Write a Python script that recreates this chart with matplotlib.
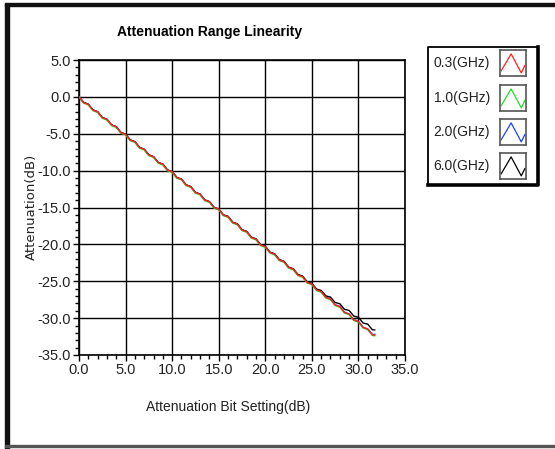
import matplotlib.pyplot as plt
from matplotlib.patches import Rectangle
from matplotlib.lines import Line2D
from matplotlib.ticker import MultipleLocator, FormatStrFormatter

# attenuation bit settings (dB)
settings = [0.0, 0.5, 1.0, 1.5, 2.0, 2.5, 3.0, 3.5, 4.0, 4.5, 5.0, 5.5, 6.0, 6.5, 7.0, 7.5,
            8.0, 8.5, 9.0, 9.5, 10.0, 10.5, 11.0, 11.5, 12.0, 12.5, 13.0, 13.5, 14.0, 14.5,
            15.0, 15.5, 16.0, 16.5, 17.0, 17.5, 18.0, 18.5, 19.0, 19.5, 20.0, 20.5, 21.0,
            21.5, 22.0, 22.5, 23.0, 23.5, 24.0, 24.5, 25.0, 25.5, 26.0, 26.5, 27.0, 27.5,
            28.0, 28.5, 29.0, 29.5, 30.0, 30.5, 31.0, 31.5, 31.75]

# measured attenuation (dB) per frequency
att_03 = [0.00, -0.79, -1.02, -1.80, -2.03, -2.83, -3.05, -3.82, -4.06, -4.85, -5.08, -5.87,
          -6.09, -6.88, -7.11, -7.90, -8.12, -8.91, -9.14, -9.94, -10.16, -10.95, -11.17,
          -11.96, -12.19, -12.98, -13.20, -14.00, -14.22, -15.01, -15.23, -16.03, -16.25,
          -17.04, -17.27, -18.06, -18.28, -19.07, -19.30, -20.09, -20.31, -21.10, -21.33,
          -22.12, -22.34, -23.14, -23.36, -24.15, -24.38, -25.17, -25.39, -26.18, -26.41,
          -27.20, -27.42, -28.21, -28.44, -29.23, -29.45, -30.25, -30.47, -31.26, -31.48,
          -32.27, -32.30]
att_10 = [0.00, -0.85, -1.09, -1.87, -2.11, -2.90, -3.13, -3.90, -4.14, -4.93, -5.16, -5.95,
          -6.17, -6.96, -7.19, -7.98, -8.20, -8.99, -9.22, -10.02, -10.24, -11.03, -11.25,
          -12.04, -12.27, -13.06, -13.28, -14.08, -14.30, -15.09, -15.31, -16.11, -16.33,
          -17.12, -17.35, -18.14, -18.36, -19.15, -19.38, -20.17, -20.39, -21.18, -21.41,
          -22.20, -22.42, -23.22, -23.44, -24.23, -24.46, -25.25, -25.47, -26.26, -26.49,
          -27.28, -27.50, -28.29, -28.52, -29.31, -29.53, -30.33, -30.55, -31.34, -31.56,
          -32.35, -32.40]
att_20 = [0.00, -0.74, -1.00, -1.77, -2.01, -2.79, -3.03, -3.80, -4.03, -4.82, -5.05, -5.84,
          -6.07, -6.85, -7.09, -7.87, -8.10, -8.88, -9.12, -9.90, -10.13, -10.92, -11.15,
          -11.93, -12.16, -12.95, -13.18, -13.96, -14.20, -14.98, -15.21, -16.00, -16.22,
          -17.01, -17.24, -18.03, -18.26, -19.04, -19.27, -20.06, -20.29, -21.07, -21.30,
          -22.09, -22.31, -23.10, -23.33, -24.12, -24.35, -25.13, -25.37, -26.15, -26.38,
          -27.17, -27.40, -28.18, -28.41, -29.20, -29.43, -30.22, -30.44, -31.23, -31.46,
          -32.24, -32.20]
att_60 = [0.00, -0.76, -1.00, -1.78, -2.02, -2.81, -3.04, -3.81, -4.05, -4.84, -5.06, -5.85,
          -6.08, -6.86, -7.10, -7.88, -8.11, -8.90, -9.13, -9.92, -10.14, -10.93, -11.16,
          -11.94, -12.17, -12.96, -13.19, -13.98, -14.21, -14.99, -15.22, -16.01, -16.20,
          -17.00, -17.22, -18.02, -18.24, -19.03, -19.25, -20.05, -20.27, -21.06, -21.28,
          -22.07, -22.30, -23.08, -23.31, -24.08, -24.30, -25.08, -25.28, -26.05, -26.25,
          -26.98, -27.15, -27.88, -28.05, -28.80, -28.96, -29.72, -29.88, -30.66, -30.82,
          -31.58, -31.60]

labels = ['0.3(GHz)', '1.0(GHz)', '2.0(GHz)', '6.0(GHz)']
colors = ['#ff2020', '#20e020', '#2040ff', '#000000']

# little zigzag drawn inside each legend swatch
swatch_x = [0.0, 0.42, 0.85, 1.0]
swatch_y = [0.2, 0.85, 0.12, 0.4]

font = ['Liberation Sans', 'DejaVu Sans']

fig = plt.figure(figsize=(5.55, 4.49), dpi=100)

# outer frame (thick left/top, thin bottom)
fig.patches.append(Rectangle((5 / 555, 0), 4 / 555, 1 - 4 / 449, transform=fig.transFigure,
                             color='#111111', zorder=0))
fig.patches.append(Rectangle((5 / 555, 1 - 6 / 449), 1, 3 / 449, transform=fig.transFigure,
                             color='#111111', zorder=0))
fig.patches.append(Rectangle((5 / 555, 2 / 449), 1, 2 / 449, transform=fig.transFigure,
                             color='#555555', zorder=0))

ax = fig.add_axes([79 / 555, 1 - 355 / 449, 326 / 555, 295 / 449])

# draw order: blue, black, green, then red on top
series = [(att_20, 2), (att_60, 3), (att_10, 1), (att_03, 0)]
for vals, i in series:
    ax.plot(settings, vals, color=colors[i], lw=1.0, zorder=3)

ax.set_xlim(0, 35)
ax.set_ylim(-35, 5)
ax.xaxis.set_major_locator(MultipleLocator(5))
ax.xaxis.set_minor_locator(MultipleLocator(1))
ax.yaxis.set_major_locator(MultipleLocator(5))
ax.yaxis.set_minor_locator(MultipleLocator(1))
ax.xaxis.set_major_formatter(FormatStrFormatter('%.1f'))
ax.yaxis.set_major_formatter(FormatStrFormatter('%.1f'))
ax.grid(True, which='major', color='black', lw=1.0)
ax.tick_params(which='major', length=4, width=1, direction='out', labelsize=10.5,
               labelcolor='#222222', pad=2)
ax.tick_params(which='minor', length=3, width=1, direction='out')
for lab in ax.get_xticklabels() + ax.get_yticklabels():
    lab.set_family(font)
for sp in ax.spines.values():
    sp.set_linewidth(1.2)

fig.text(210 / 555, 1 - 32 / 449, 'Attenuation Range Linearity', ha='center', va='center',
         fontsize=10, fontweight='bold', family=font)
fig.text(228 / 555, 1 - 407 / 449, 'Attenuation Bit Setting(dB)', ha='center', va='center',
         fontsize=10, family=font, color='#222222')
fig.text(31 / 555, 1 - 207 / 449, 'Attenuation(dB)', ha='center', va='center',
         rotation=90, fontsize=9.5, color='#222222')

# legend box: thin left/top, heavier right/bottom
L, R, T, B = 428 / 555, 538 / 555, 1 - 47 / 449, 1 - 185 / 449
fig.lines.append(Line2D([L, L, R], [B, T, T], transform=fig.transFigure, color='black', lw=1.3))
fig.lines.append(Line2D([L, R, R], [B, B, T], transform=fig.transFigure, color='black', lw=2.6))
row_y = [63, 98, 132, 166]
for i, lab in enumerate(labels):
    yc = row_y[i]
    fig.text(490 / 555, 1 - yc / 449, lab, ha='right', va='center', fontsize=10,
             family=font, color='#222222')
    sax = fig.add_axes([500 / 555, 1 - (yc + 13) / 449, 26 / 555, 26 / 449])
    sax.plot(swatch_x, swatch_y, color=colors[i], lw=0.9)
    sax.set_xlim(-0.05, 1.05)
    sax.set_ylim(0, 1)
    sax.set_xticks([])
    sax.set_yticks([])
    for sp in sax.spines.values():
        sp.set_color('#555555')
        sp.set_linewidth(1.2)

fig.savefig('out.png', dpi=100)
